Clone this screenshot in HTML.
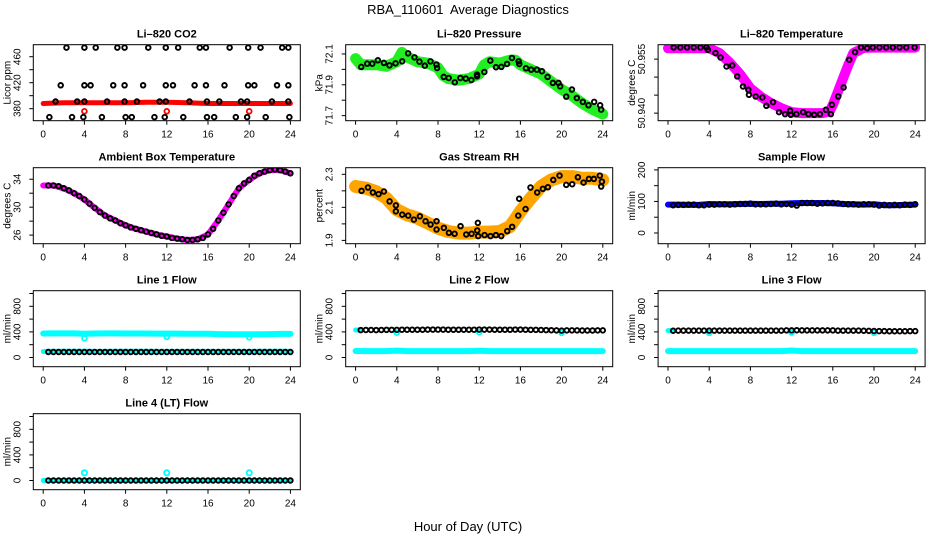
<!DOCTYPE html>
<html><head><meta charset="utf-8">
<style>
html,body{margin:0;padding:0;background:#fff;}
svg{display:block;font-family:"Liberation Sans",Arial,sans-serif;}
</style></head>
<body>
<svg id="chart" width="936" height="540" viewBox="0 0 936 540" xmlns="http://www.w3.org/2000/svg">
<text x="468" y="14" text-anchor="middle" font-size="13" style="white-space:pre" xml:space="preserve">RBA_110601  Average Diagnostics</text>
<text x="468" y="531" text-anchor="middle" font-size="13">Hour of Day (UTC)</text>
</svg>
<script>
// ---- shared data ----
const hourTicks = [0,4,8,12,16,20,24];
const hourly = [0,1,2,3,4,5,6,7,8,9,10,11,12,13,14,15,16,17,18,19,20,21,22,23,24];
const halfHours = [0.5,1,1.5,2,2.5,3,3.5,4,4.5,5,5.5,6,6.5,7,7.5,8,8.5,9,9.5,10,10.5,11,11.5,12,12.5,13,13.5,14,14.5,15,15.5,16,16.5,17,17.5,18,18.5,19,19.5,20,20.5,21,21.5,22,22.5,23,23.5,24];
const outlierHours = [4,12,20];

// CO2
const co2BandX = [0,2,4,6,8,10,12,14,16,18,20,22,24];
const co2BandY = [388,389,389,389,389,390,390,389,388,388,388,388,388];
const co2PtX = [2.26,4.0,5.1,7.2,7.9,10.2,11.9,13.1,15.2,15.8,18.1,19.9,21.1,23.2,23.8,
 1.7,4.0,4.6,6.8,7.9,9.7,11.9,12.6,14.7,15.8,17.6,19.9,20.5,22.7,23.8,
 1.2,3.3,4.0,6.2,7.9,9.1,11.3,11.9,14.2,15.9,17.1,19.2,19.8,22.2,23.8,
 0.6,2.8,3.9,5.7,8.0,8.6,10.8,11.8,13.6,15.9,16.6,18.7,19.8,21.6,23.9];
const co2PtY = [474,474,474,474,474,474,474,474,474,474,474,474,474,474,474,
 416,416,416,416,416,416,416,416,416,416,416,416,416,416,416,
 391,391,391,391,391,391,391,391,391,391,391,391,391,391,391,
 367,367,367,367,367,367,367,367,367,367,367,367,367,367,367];
const co2Outliers = [376,376,376];

// Pressure
const presBandX = [0,0.5,1,2,3,4,4.5,5,6,7,8,8.5,9,10,11,12,12.5,13,14,15,15.5,16,17,18,19,20,21,22,23,24];
const presBandY = [72.07,72.03,72.03,72.03,72.02,72.05,72.11,72.08,72.05,72.04,72.01,71.96,71.94,71.93,71.94,71.97,72.03,72.05,72.04,72.06,72.06,72.03,72.0,71.97,71.92,71.87,71.83,71.78,71.74,71.71];
const presPtX = [0.55,1.13,1.62,2.16,2.75,3.29,3.88,4.52,5.10,5.72,6.20,6.72,7.27,7.85,7.91,8.56,9.04,9.63,10.17,10.69,11.24,11.79,11.79,12.50,13.08,13.63,14.15,14.70,15.18,15.83,15.89,16.54,17.05,17.60,18.09,18.64,19.15,19.70,19.86,20.45,21.00,21.48,22.06,22.61,23.16,23.74,23.84];
const presPtY = [72.016,72.037,72.037,72.059,72.042,72.026,72.039,72.052,72.104,72.078,72.050,72.024,72.052,72.031,72.009,71.951,71.944,71.916,71.944,71.940,71.931,71.966,71.955,71.983,72.057,72.014,72.016,72.035,72.074,72.052,72.035,72.007,71.998,71.998,71.988,71.951,71.912,71.912,71.890,71.823,71.869,71.814,71.789,71.767,71.789,71.767,71.739];

// Li-820 temperature
const tempBandX = [0,1,2,3,4,5,6,7,8,9,10,11,12,13,14,15,15.7,16,16.5,17,17.5,18,19,20,21,22,23,24];
const tempBandY = [50.958,50.958,50.958,50.958,50.958,50.9567,50.954,50.9508,50.9469,50.9446,50.9428,50.9414,50.9403,50.94,50.94,50.94,50.9405,50.9423,50.946,50.9497,50.9534,50.9567,50.9581,50.9582,50.9582,50.9582,50.9582,50.9582];
const tempPtX = [0.55,1.20,1.85,2.50,3.15,3.74,3.87,4.61,5.10,5.68,6.24,6.72,7.28,7.80,7.86,8.51,9.16,9.55,10.20,10.78,11.37,11.86,11.92,12.47,13.12,13.64,14.19,14.75,15.33,15.81,15.91,16.53,17.05,17.60,18.16,18.74,19.33,19.88,20.53,21.18,21.83,22.48,23.13,23.94];
const tempPtY = [50.95824,50.95824,50.95824,50.95824,50.95824,50.95824,50.95759,50.95667,50.95546,50.95296,50.95324,50.95019,50.94741,50.94648,50.94509,50.94463,50.94435,50.94204,50.94306,50.94028,50.93972,50.94065,50.93954,50.93972,50.94028,50.93972,50.93954,50.93972,50.94093,50.93972,50.94232,50.94463,50.94713,50.95482,50.95695,50.95824,50.95806,50.95824,50.95824,50.95824,50.95824,50.95824,50.95824,50.95824];

// Ambient box temperature
const ambBandY = [33.1,33.1,32.7,32.0,31.1,29.9,28.8,28.1,27.4,26.9,26.5,26.1,25.8,25.5,25.3,25.4,26.1,28.1,30.4,32.7,33.9,34.85,35.3,35.3,34.85];
const ambPtY = [33.1,33.1,33.0,32.7,32.4,32.0,31.6,31.1,30.5,29.9,29.3,28.8,28.4,28.1,27.7,27.4,27.1,26.9,26.7,26.5,26.3,26.1,25.9,25.8,25.6,25.5,25.4,25.3,25.3,25.4,25.6,26.1,26.9,28.1,29.2,30.4,31.6,32.7,33.4,33.9,34.5,34.85,35.1,35.3,35.4,35.3,35.1,34.85];

// Gas stream RH
const rhBandY = [2.226,2.216,2.195,2.155,2.085,2.055,2.035,2.005,1.974,1.954,1.944,1.944,1.950,1.950,1.954,1.984,2.075,2.155,2.226,2.266,2.286,2.286,2.276,2.276,2.266];
const rhPtX = [0.58,1.20,1.68,2.23,2.75,3.30,3.91,3.91,4.53,5.11,5.66,6.24,6.79,7.28,7.86,7.86,8.57,9.06,9.61,10.19,10.74,11.26,11.81,11.87,11.90,12.52,13.10,13.62,14.14,14.72,15.20,15.79,15.88,16.50,16.98,17.63,18.18,18.67,19.19,19.80,20.45,21.03,21.58,22.13,22.65,23.13,23.71,23.91,23.84];
const rhPtY = [2.200,2.220,2.190,2.180,2.196,2.136,2.112,2.076,2.056,2.050,2.026,2.046,2.016,1.996,2.016,1.966,1.976,1.946,1.940,1.986,1.936,1.940,1.960,2.006,1.926,1.932,1.926,1.932,1.926,1.956,1.982,2.050,2.152,2.090,2.220,2.190,2.212,2.222,2.266,2.292,2.236,2.240,2.282,2.250,2.272,2.272,2.292,2.256,2.226];

// Sample flow
const sampBandY = [90,90,89,89,92,91,91,92,93,92,93,93,94,95,95,95,94,92,91,90,91,88,88,89,90];
const sampPtY = [88,89,89,90,90,88,88,90,90,91,91,90,91,92,92,93,91,91,91,92,93,91,92,90,87,95,95,95,93,94,95,95,94,92,91,91,90,91,91,90,87,89,88,89,88,90,89,91];

// Line flows
const l1CyanHiY = [375,376,376,376,372,375,376,376,375,375,375,374,374,373,372,372,370,366,362,362,362,364,366,368,368];
const l1CyanLoY = [94,96,96,96,96,95,95,96,96,96,96,95,95,95,95,95,95,95,95,95,95,96,96,96,96];
const l1CyanOut = [300,322,315];
const l1BlackY = [86,86,86,86,86,86,86,86,86,86,86,86,86,86,86,86,86,86,86,86,86,86,86,86,86,86,86,86,86,86,86,86,86,86,86,86,86,86,86,86,86,86,86,86,86,86,86,86];
const l2CyanLoY = [102,100,100,100,108,100,100,100,100,100,100,100,106,100,100,100,100,100,100,100,100,100,100,100,100];
const l2CyanHiX = [0,0.4];
const l2CyanHiY = [430,430];
const l2CyanDip = [390,395,385];
const l2BlackY = [428,430,430,428,430,432,432,432,434,434,434,434,434,436,436,436,436,434,434,434,434,434,434,436,436,436,434,434,434,434,436,436,434,432,432,430,428,426,424,420,424,424,424,422,422,422,424,424];
const l3CyanLoY = [100,100,100,100,100,100,100,100,100,100,100,100,110,100,100,100,100,100,100,100,100,100,100,100,100];
const l3CyanHiX = [0,0.4];
const l3CyanHiY = [420,420];
const l3CyanDip = [385,390,385];
const l3BlackY = [418,420,420,420,420,420,420,420,420,420,420,420,420,420,420,420,420,420,420,420,420,420,424,424,426,424,424,424,424,424,424,424,420,420,420,420,420,418,416,414,412,412,410,410,410,410,412,412];
const l4CyanY = [0,0,0,0,0,0,0,0,0,0,0,0,0,0,0,0,0,0,0,0,0,0,0,0,0];
const l4CyanOut = [120,120,120];
const l4BlackY = [0,0,0,0,0,0,0,0,0,0,0,0,0,0,0,0,0,0,0,0,0,0,0,0,0,0,0,0,0,0,0,0,0,0,0,0,0,0,0,0,0,0,0,0,0,0,0,0];

// tick arrays
const co2Ticks=[380,400,420,440,460], co2Labels=[380,420,460];
const presTicks=[71.7,71.8,71.9,72.0,72.1], presLabels=[71.7,71.9,72.1];
const tempTicks=[50.940,50.945,50.950,50.955], tempLabels=[50.940,50.955];
const ambTicks=[26,28,30,32,34], ambLabels=[26,30,34];
const rhTicks=[1.9,2.0,2.1,2.2,2.3], rhLabels=[1.9,2.1,2.3];
const sampTicks=[0,50,100,150,200], sampLabels=[0,100,200];
const flowTicks=[0,200,400,600,800,1000], flowLabels=[0,400,800];

const NS='http://www.w3.org/2000/svg';
const svg=document.getElementById('chart');
function mk(tag,attrs,parent){const e=document.createElementNS(NS,tag);for(const k in attrs)e.setAttribute(k,attrs[k]);(parent||svg).appendChild(e);return e;}

const colX=[33.3,345.7,658.1], rowY=[44.7,167.7,290.7,413.7], PW=267, PH=76;

function makePanel(col,row,ylo,yhi,title,ylab,ticks,labels,labelFmt,name){
  const x0=colX[col], y0=rowY[row];
  const g=mk('g',{});
  
  
  const xs=h=>x0+(h+0.96)/25.92*PW;
  const ys=v=>y0+PH-(v-ylo)/(yhi-ylo)*PH;
  const clip=mk('clipPath',{id:'c'+name},g);
  mk('rect',{x:x0,y:y0,width:PW,height:PH},clip);
  const plot=mk('g',{'clip-path':'url(#c'+name+')'},g);
  
  
  const box=mk('rect',{x:x0,y:y0,width:PW,height:PH,fill:'none',stroke:'#000','stroke-width':1},g);
  
  
  const t=mk('text',{x:x0+PW/2,y:y0-7,'text-anchor':'middle','font-size':11,'font-weight':'bold'},g);
  t.textContent=title;
  
  
  const xa=mk('g',{},g);
  
  
  hourTicks.forEach(h=>{
    mk('line',{x1:xs(h),x2:xs(h),y1:y0+PH,y2:y0+PH+4,stroke:'#000'},xa);
    const tl=mk('text',{x:xs(h),y:y0+PH+17,'text-anchor':'middle','font-size':10},xa);
    tl.textContent=h;
    
    
  });
  const ya=mk('g',{},g);
  
  
  ticks.forEach(v=>mk('line',{x1:x0-4,x2:x0,y1:ys(v),y2:ys(v),stroke:'#000'},ya));
  labels.forEach(v=>{
    const tx=x0-13, ty=ys(v);
    const tl=mk('text',{x:tx,y:ty,'text-anchor':'middle','font-size':10,transform:'rotate(-90 '+tx+' '+ty+')'},ya);
    tl.textContent=labelFmt(v);
    
    
  });
  const lx=x0-23, ly=y0+PH/2;
  const yt=mk('text',{x:lx,y:ly,'text-anchor':'middle','font-size':10,transform:'rotate(-90 '+lx+' '+ly+')'},g);
  yt.textContent=ylab;
  
  
  return {plot,xs,ys};
}
function band(p,X,Y,color,w,name){
  const d=X.map((h,i)=>(i?'L':'M')+p.xs(h).toFixed(1)+','+p.ys(Y[i]).toFixed(1)).join('');
  const e=mk('path',{d:d,fill:'none',stroke:color,'stroke-width':w,'stroke-linejoin':'round','stroke-linecap':'round'},p.plot);
  
  
}
function points(p,X,Y,color,r,sw,name){
  const g=mk('g',{},p.plot);
  
  
  X.forEach((h,i)=>{
    const c=mk('circle',{cx:p.xs(h),cy:p.ys(Y[i]),r:r,fill:'none',stroke:color,'stroke-width':sw},g);
    
    
  });
}
const f0=v=>String(v), f1=v=>v.toFixed(1), f3=v=>v.toFixed(3);
const BW=1.9;

// Row 1
let p=makePanel(0,0,361.5,478.5,'Li\u2013820 CO2','Licor ppm',co2Ticks,co2Labels,f0,'co2-panel');
band(p,co2BandX,co2BandY,'#ff0000',5,'co2-band');
points(p,outlierHours,co2Outliers,'#ff0000',2.4,1.8,'co2-red-outliers');
points(p,co2PtX,co2PtY,'#000',2.3,BW,'co2-average-points');

p=makePanel(1,0,71.667,72.16,'Li\u2013820 Pressure','kPa',presTicks,presLabels,f1,'pressure-panel');
band(p,presBandX,presBandY,'#22ee22',11,'pressure-band');
points(p,presPtX,presPtY,'#000',2.3,BW,'pressure-average-points');

p=makePanel(2,0,50.9379,50.959,'Li\u2013820 Temperature','degrees C',tempTicks,tempLabels,f3,'li820-temp-panel');
band(p,tempBandX,tempBandY,'#ff00ff',10,'li820-temp-band');
points(p,tempPtX,tempPtY,'#000',2.3,BW,'li820-temp-average-points');

// Row 2
p=makePanel(0,1,24.77,35.65,'Ambient Box Temperature','degrees C',ambTicks,ambLabels,f0,'ambient-panel');
band(p,hourly,ambBandY,'#ff00ff',6,'ambient-band');
points(p,halfHours,ambPtY,'#000',2.3,BW,'ambient-average-points');

p=makePanel(1,1,1.880,2.340,'Gas Stream RH','percent',rhTicks,rhLabels,f1,'rh-panel');
band(p,hourly,rhBandY,'#ffa500',13,'rh-band');
points(p,rhPtX,rhPtY,'#000',2.3,BW,'rh-average-points');

p=makePanel(2,1,-34,207,'Sample Flow','ml/min',sampTicks,sampLabels,f0,'sample-flow-panel');
band(p,hourly,sampBandY,'#0000ff',6,'sample-flow-band');
points(p,halfHours,sampPtY,'#000',2.3,BW,'sample-flow-average-points');

// Row 3
p=makePanel(0,2,-144,1044,'Line 1 Flow','ml/min',flowTicks,flowLabels,f0,'line1-panel');
band(p,hourly,l1CyanHiY,'#00ffff',6,'line1-cyan-high-band');
band(p,hourly,l1CyanLoY,'#00ffff',5,'line1-cyan-low-band');
points(p,outlierHours,l1CyanOut,'#00ffff',2.4,1.8,'line1-cyan-outliers');
points(p,halfHours,l1BlackY,'#000',2.3,BW,'line1-average-points');

p=makePanel(1,2,-144,1044,'Line 2 Flow','ml/min',flowTicks,flowLabels,f0,'line2-panel');
band(p,hourly,l2CyanLoY,'#00ffff',6,'line2-cyan-band');
band(p,l2CyanHiX,l2CyanHiY,'#00ffff',5,'line2-cyan-start');
points(p,outlierHours,l2CyanDip,'#00ffff',2.4,1.8,'line2-cyan-dips');
points(p,halfHours,l2BlackY,'#000',2.3,BW,'line2-average-points');

p=makePanel(2,2,-144,1044,'Line 3 Flow','ml/min',flowTicks,flowLabels,f0,'line3-panel');
band(p,hourly,l3CyanLoY,'#00ffff',6,'line3-cyan-band');
band(p,l3CyanHiX,l3CyanHiY,'#00ffff',5,'line3-cyan-start');
points(p,outlierHours,l3CyanDip,'#00ffff',2.4,1.8,'line3-cyan-dips');
points(p,halfHours,l3BlackY,'#000',2.3,BW,'line3-average-points');

// Row 4
p=makePanel(0,3,-144,1044,'Line 4 (LT) Flow','ml/min',flowTicks,flowLabels,f0,'line4-panel');
band(p,hourly,l4CyanY,'#00ffff',5,'line4-cyan-band');
points(p,outlierHours,l4CyanOut,'#00ffff',2.6,1.9,'line4-cyan-outliers');
points(p,halfHours,l4BlackY,'#000',2.3,BW,'line4-average-points');
</script>
</body></html>
